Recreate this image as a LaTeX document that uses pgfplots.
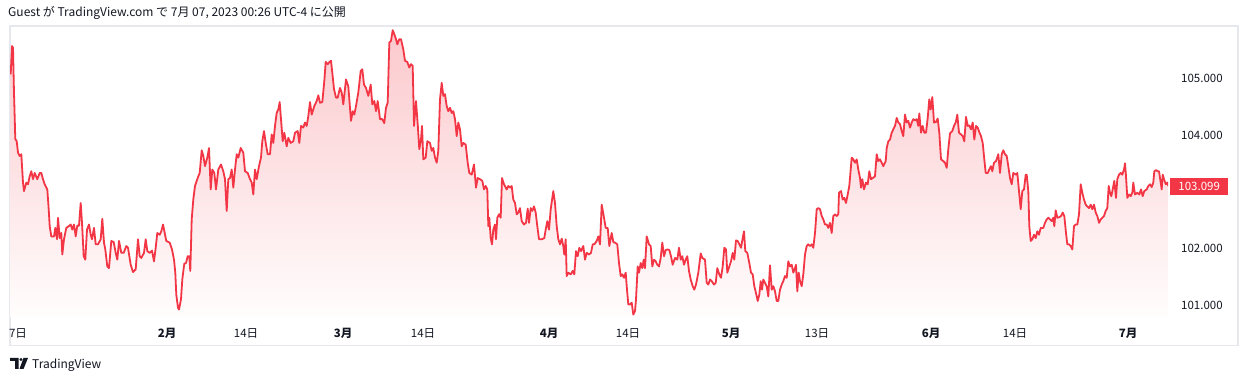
\documentclass[border=0pt]{standalone}
\usepackage{fontspec}
\setmainfont{Noto Sans CJK JP}
\usepackage{pgfplots}
\pgfplotsset{compat=1.18}
\usepackage{pgfplotstable}
\definecolor{tvred}{HTML}{F23645}
\definecolor{tvtext}{HTML}{131722}
\definecolor{tvborder}{HTML}{E6E8EE}
\colorlet{tvfilltop}{tvred!27!white}
\colorlet{tvfillbot}{tvred!1!white}

\pgfplotstableread[row sep=\\]{
x y\\
10.7 105.07\\ 12 105.57\\ 13 105.54\\ 14 104.75\\ 15.3 103.93\\ 16.7 103.89\\ 18 103.69\\ 19.7 103.63\\ 21.3 103.66\\ 23 103.16\\
24 103.01\\ 26.3 103.16\\ 28 103.13\\ 29.7 103.27\\ 31.3 103.36\\ 33 103.22\\ 34.7 103.33\\ 37.3 103.22\\ 39.7 103.33\\ 41.3 103.33\\
43 103.22\\ 44.7 103.13\\ 47.3 103.04\\ 48.7 102.69\\ 49.7 102.39\\ 51.3 102.21\\ 54 102.21\\ 55.3 102.36\\ 57 102.16\\ 58 102.54\\
59.7 102.18\\ 61.3 102.27\\ 62.3 101.89\\ 64 102.16\\ 66.3 102.36\\ 68.7 102.39\\ 70.7 102.42\\ 72.3 102.33\\ 74 102.42\\ 75.7 102.21\\
77.3 102.40\\ 79 102.40\\ 80.7 102.80\\ 82 102.45\\ 83.7 101.86\\ 85.3 101.80\\ 87 102.33\\ 89 102.42\\ 90.7 102.24\\ 92 102.16\\
94 102.36\\ 95.7 102.07\\ 98 102.07\\ 100.7 102.16\\ 102.3 102.52\\ 104 102.10\\ 105.3 101.98\\ 107.3 101.68\\ 109 101.65\\ 111.3 102.13\\
113.7 102.11\\ 115.7 101.92\\ 117.3 101.80\\ 119 102.13\\ 121.3 101.92\\ 123.7 101.92\\ 126.3 102.04\\ 128 102.01\\ 130.7 101.71\\ 133 101.58\\
135.7 101.63\\ 138 102.16\\ 139.7 101.86\\ 141.3 101.83\\ 144 101.92\\ 145.7 102.16\\ 147.3 101.95\\ 149.7 101.92\\ 152 101.96\\ 154 101.77\\
155.7 102.01\\ 157.3 102.27\\ 159.7 102.24\\ 161.3 102.30\\ 163 102.42\\ 164.7 102.27\\ 166.3 102.13\\ 169.7 102.10\\ 172 101.98\\ 174 101.80\\
175.3 101.57\\ 176.3 101.18\\ 178 100.95\\ 179 100.92\\ 181 101.10\\ 182.3 101.45\\ 184.3 101.73\\ 186 101.74\\ 187.7 101.86\\ 189.3 101.86\\
190.3 101.60\\ 191.7 102.51\\ 193.3 102.86\\ 195 103.10\\ 196.7 103.19\\ 198.3 103.27\\ 199.7 103.33\\ 201.7 103.73\\ 203.3 103.63\\ 205 103.45\\
207.3 103.60\\ 209 103.77\\ 210.7 103.04\\ 212.3 103.39\\ 214.3 103.33\\ 216 103.04\\ 218.3 103.39\\ 221 103.48\\ 223.3 103.36\\ 225 103.22\\
226.7 102.66\\ 228.3 103.22\\ 230 103.24\\ 231.7 103.39\\ 233.3 103.07\\ 235 103.39\\ 236.7 103.66\\ 238.3 103.60\\ 240.7 103.77\\ 243.3 103.69\\
245 103.36\\ 247.7 103.33\\ 250 103.22\\ 251.7 103.16\\ 253.3 102.95\\ 255 103.39\\ 256.7 103.22\\ 259 103.45\\ 261 103.60\\ 262.3 103.89\\
264 104.07\\ 265.7 103.86\\ 267.7 103.66\\ 270 103.66\\ 271.7 104.01\\ 273.3 103.86\\ 275 104.16\\ 276.7 104.39\\ 278.3 104.45\\ 279.7 104.58\\
281 104.28\\ 282.7 103.89\\ 284.3 104.04\\ 286.7 103.80\\ 288.3 103.95\\ 290.7 103.86\\ 293.3 103.89\\ 295 104.04\\ 297.7 104.07\\ 299.3 103.86\\
301 104.16\\ 303.3 104.13\\ 305 104.22\\ 306.7 104.16\\ 308.3 104.33\\ 310 104.58\\ 311.7 104.36\\ 314.3 104.51\\ 316.7 104.60\\ 318.3 104.70\\
320 104.57\\ 322.3 104.58\\ 324.3 104.95\\ 325.7 105.29\\ 327.7 105.25\\ 329 105.28\\ 331 105.31\\ 332.3 105.10\\ 334 104.81\\ 336 104.66\\
337.7 104.66\\ 340 104.83\\ 341.7 104.75\\ 343.3 104.54\\ 346 104.98\\ 348.3 104.86\\ 351 104.25\\ 352.7 104.42\\ 354.3 104.36\\ 356 104.51\\
358.3 104.75\\ 360.7 105.13\\ 362.3 105.16\\ 364 104.89\\ 366 104.83\\ 368.3 104.69\\ 370.7 104.89\\ 372.3 104.54\\ 374.3 104.60\\ 376 104.42\\
377.7 104.60\\ 380 104.28\\ 382.3 104.28\\ 384.3 104.21\\ 386 104.48\\ 387.7 104.57\\ 389.3 105.63\\ 391 105.66\\ 392.7 105.85\\ 394.3 105.78\\
396 105.69\\ 397.3 105.60\\ 399.3 105.69\\ 401 105.69\\ 403.3 105.51\\ 405 105.31\\ 407.3 105.29\\ 409.3 105.19\\ 411 105.25\\ 412.7 105.22\\
414 104.16\\ 416 104.60\\ 417.7 104.19\\ 419.3 103.75\\ 421 103.92\\ 422 104.16\\ 423.3 103.57\\ 425.7 103.60\\ 427.3 103.89\\ 430 103.86\\
431.7 103.72\\ 433.3 103.77\\ 435 103.60\\ 436.7 103.51\\ 438.3 103.72\\ 440 104.63\\ 441.7 104.92\\ 443.3 104.69\\ 445 104.72\\ 446.7 104.51\\
448.3 104.42\\ 450 104.48\\ 451.7 104.39\\ 453.3 104.42\\ 455 104.28\\ 456.7 103.98\\ 458.3 104.22\\ 460 104.10\\ 461.7 103.80\\ 463.3 103.86\\
465.7 103.83\\ 467.7 103.51\\ 469.3 103.33\\ 471.7 103.30\\ 474 103.48\\ 476 103.07\\ 477.7 103.24\\ 480 103.22\\ 482.3 103.19\\ 484 103.04\\
485.7 103.10\\ 487.3 103.04\\ 488.3 102.39\\ 489.3 102.54\\ 490.7 102.18\\ 492 102.07\\ 493.3 102.33\\ 495 102.42\\ 496 102.16\\ 497.3 102.54\\
499 102.60\\ 500.7 102.54\\ 502 103.24\\ 504 103.13\\ 506.7 103.04\\ 508.3 103.10\\ 510 103.07\\ 511.7 103.10\\ 513.3 102.86\\ 515 102.80\\
516.7 102.60\\ 518.3 102.63\\ 520 102.71\\ 521.7 102.48\\ 524 102.42\\ 526 102.45\\ 527.7 102.70\\ 529 102.45\\ 530.7 102.71\\ 532.3 102.66\\
534 102.74\\ 535.7 102.63\\ 537.3 102.39\\ 539 102.16\\ 541.7 102.16\\ 544.3 102.18\\ 545.7 102.33\\ 547.3 102.48\\ 549 102.33\\ 550.7 102.69\\
553.3 103.01\\ 555 102.80\\ 556.7 102.39\\ 558.3 102.16\\ 560 102.07\\ 561.7 102.17\\ 563.3 102.04\\ 564.3 101.89\\ 565.7 102.16\\ 566.7 101.51\\
568.3 101.57\\ 570.7 101.54\\ 572.7 101.60\\ 574.3 101.54\\ 576 101.95\\ 577.7 101.86\\ 579.3 102.01\\ 581 101.95\\ 583.3 102.04\\ 585 101.80\\
586.7 101.92\\ 589 101.89\\ 591 101.92\\ 592.7 102.07\\ 594.3 102.07\\ 596.7 102.13\\ 598.3 102.21\\ 600 102.07\\ 601.7 102.77\\ 603.7 102.57\\
605.7 102.36\\ 607.7 102.36\\ 609.3 102.04\\ 611.7 102.27\\ 613.3 102.11\\ 615 102.10\\ 617.3 102.07\\ 619 101.74\\ 620.7 101.51\\ 622.3 101.54\\
624 101.48\\ 625.7 101.57\\ 627 101.27\\ 628.3 101.01\\ 630 101.01\\ 631.7 101.04\\ 633.3 100.83\\ 635 100.89\\ 636 101.10\\ 637.7 101.68\\
639 101.57\\ 640.7 101.74\\ 642.3 101.65\\ 643.7 101.80\\ 645 101.65\\ 646.7 102.21\\ 649 102.07\\ 650.7 102.04\\ 652.3 101.68\\ 654 101.80\\
655.7 101.77\\ 657.3 101.71\\ 659 101.68\\ 660.7 101.83\\ 662.3 102.10\\ 664 101.86\\ 665.7 101.97\\ 667.7 101.98\\ 669.3 101.97\\ 671 101.86\\
672.7 101.71\\ 675 101.83\\ 677.3 101.80\\ 679 102.01\\ 680.7 101.80\\ 682.3 101.86\\ 684 101.71\\ 685.7 101.80\\ 687.3 101.86\\ 689 101.60\\
690.7 101.45\\ 692.7 101.33\\ 694.3 101.27\\ 696 101.36\\ 698.3 101.57\\ 700.7 101.91\\ 702.3 101.83\\ 705 101.80\\ 706.7 101.39\\ 708.3 101.36\\
710 101.45\\ 711.7 101.42\\ 714 101.36\\ 715.7 101.39\\ 717.3 101.65\\ 719.3 101.54\\ 721 101.48\\ 722.7 101.68\\ 724.3 102.01\\ 726 101.98\\
727.3 101.57\\ 729.3 101.68\\ 731 101.77\\ 732.7 101.92\\ 734.3 101.80\\ 736 102.14\\ 737.7 102.13\\ 739.3 102.07\\ 741 102.01\\ 742.7 102.18\\
744 102.30\\ 745.3 101.95\\ 747.3 101.92\\ 749.3 101.74\\ 751 101.57\\ 752.7 101.54\\ 754.3 101.33\\ 756 101.21\\ 757.7 101.07\\ 759.3 101.18\\
760.7 101.42\\ 762 101.27\\ 763.3 101.45\\ 765 101.39\\ 766.7 101.33\\ 768.3 101.15\\ 770 101.70\\ 771.7 101.27\\ 773.3 101.33\\ 775 101.24\\
776.7 101.07\\ 778.3 101.07\\ 780 101.27\\ 781.7 101.36\\ 783.3 101.42\\ 785 101.51\\ 786.7 101.48\\ 788.3 101.77\\ 790 101.68\\ 791.7 101.71\\
793.3 101.57\\ 795 101.65\\ 796 101.71\\ 797.3 101.24\\ 798.7 101.57\\ 800 101.42\\ 801.7 101.33\\ 803.3 101.54\\ 805 101.89\\ 806.7 102.04\\
808.3 102.07\\ 810 102.04\\ 811.7 102.07\\ 813.3 102.01\\ 815 102.27\\ 816.7 102.69\\ 818.3 102.71\\ 820 102.69\\ 821.7 102.57\\ 823.3 102.51\\
825 102.42\\ 826.7 102.42\\ 828.3 102.36\\ 830 102.45\\ 831.7 102.27\\ 833.3 102.57\\ 835 102.60\\ 836.7 102.57\\ 838.3 102.60\\ 839 102.98\\
841 103.01\\ 842.7 102.86\\ 844.3 102.89\\ 846 102.80\\ 847.7 102.95\\ 849.3 103.10\\ 851.7 103.60\\ 853.3 103.57\\ 855 103.51\\ 856.7 103.57\\
858.3 103.39\\ 860 103.24\\ 861 103.07\\ 862.3 103.22\\ 864 103.04\\ 866 103.16\\ 867.7 103.13\\ 869.3 103.36\\ 871 103.22\\ 872.7 103.24\\
875 103.27\\ 876.7 103.66\\ 878.3 103.54\\ 880 103.57\\ 881.7 103.51\\ 883.3 103.45\\ 885.7 103.54\\ 886.7 103.77\\ 888.3 103.89\\ 890 103.92\\
891.7 104.04\\ 893.3 104.10\\ 895 104.16\\ 896.7 104.30\\ 898.3 104.22\\ 900 104.19\\ 901.7 104.07\\ 903.3 103.98\\ 905 104.36\\ 906.7 104.22\\
908.3 104.25\\ 910 104.13\\ 911.7 104.22\\ 913.3 104.28\\ 915 104.26\\ 916.7 104.28\\ 918.3 104.16\\ 919.3 104.38\\ 921 104.04\\ 922.7 104.16\\
924.3 104.04\\ 926 104.04\\ 927.7 104.30\\ 929.3 104.63\\ 930.7 104.45\\ 932.3 104.67\\ 934 104.22\\ 936 104.23\\ 937.7 104.29\\ 939.3 104.04\\
941 103.57\\ 943.3 103.54\\ 945 103.51\\ 946.7 103.42\\ 948.3 103.75\\ 950 104.03\\ 952.3 104.07\\ 954 104.16\\ 955.7 104.22\\ 957.3 104.36\\
959 104.04\\ 961 104.01\\ 962.7 103.98\\ 964.3 103.89\\ 966 104.32\\ 967.7 104.16\\ 969.3 104.17\\ 971 104.10\\ 972.7 104.22\\ 974.3 103.92\\
976 104.16\\ 977.7 104.13\\ 979.3 104.05\\ 981 103.98\\ 982.7 103.86\\ 984.3 103.57\\ 985.7 103.33\\ 987.7 103.33\\ 989.3 103.39\\ 991 103.45\\
992.3 103.36\\ 994 103.51\\ 996 103.54\\ 998.3 103.66\\ 1000 103.33\\ 1001.7 103.66\\ 1003.3 103.73\\ 1005 103.66\\ 1006.7 103.63\\ 1008.3 103.45\\
1010 103.24\\ 1011.7 103.13\\ 1013.3 103.33\\ 1015.7 103.30\\ 1017.3 103.33\\ 1019 103.01\\ 1020.7 102.69\\ 1022.3 103.01\\ 1024 103.04\\ 1025.7 103.30\\
1026.7 103.30\\ 1028.3 103.01\\ 1029.3 102.39\\ 1030.7 102.13\\ 1032.3 102.16\\ 1034 102.24\\ 1035.7 102.18\\ 1037.3 102.30\\ 1039 102.24\\ 1040.7 102.36\\
1043.3 102.36\\ 1045 102.45\\ 1046.7 102.51\\ 1048.3 102.54\\ 1050 102.51\\ 1051.7 102.48\\ 1053.3 102.54\\ 1054.3 102.39\\ 1055.7 102.67\\ 1057.3 102.54\\
1059.3 102.55\\ 1061 102.57\\ 1062.7 102.63\\ 1064.3 102.57\\ 1066 102.27\\ 1067.3 102.07\\ 1069 102.07\\ 1070.7 102.04\\ 1072.3 101.98\\ 1074 102.39\\
1075.7 102.42\\ 1077.3 102.42\\ 1079 102.60\\ 1080.7 103.13\\ 1082.3 102.98\\ 1084 102.86\\ 1085.7 102.77\\ 1087.3 102.74\\ 1089 102.71\\ 1090.7 102.77\\
1092.3 102.69\\ 1094 102.77\\ 1095.7 102.63\\ 1097.3 102.57\\ 1099 102.45\\ 1100.7 102.51\\ 1102.3 102.54\\ 1104 102.57\\ 1105.7 102.66\\ 1107.3 102.71\\
1108.7 103.10\\ 1110 102.98\\ 1111.3 102.92\\ 1112.7 103.04\\ 1114.3 103.19\\ 1116 102.89\\ 1117.3 103.22\\ 1119 103.30\\ 1120.7 103.33\\ 1122.3 103.30\\
1124 103.39\\ 1125 103.50\\ 1126 103.27\\ 1127.3 102.89\\ 1129 102.95\\ 1130.7 102.92\\ 1132.3 102.98\\ 1133.3 103.16\\ 1135 102.95\\ 1137.3 102.98\\
1139.3 102.95\\ 1141 103.04\\ 1142.7 102.92\\ 1144.3 103.01\\ 1146.7 103.04\\ 1148.3 103.10\\ 1150 103.13\\ 1151.7 103.08\\ 1153.3 103.16\\ 1154.3 103.36\\
1156 103.38\\ 1157.7 103.36\\ 1159 103.36\\ 1160.7 103.16\\ 1161.7 103.04\\ 1162.7 103.30\\ 1164 103.22\\ 1165.7 103.13\\ 1167.3 103.16\\ 1168.3 103.099\\
}\dxy

\begin{document}
\begin{tikzpicture}[x=1pt,y=1pt]
\useasboundingbox (0,0) rectangle (1248,382);
\fill[white] (0,0) rectangle (1248,382);
\draw[tvborder, line width=1.2pt] (10,36.5) rectangle (1238,356);
\node[anchor=base west, inner sep=0pt, text=tvtext, font=\fontsize{12}{14}\selectfont] at (8,365.5) {Guest が TradingView.com で 7月 07, 2023 00:26 UTC-4 に公開};
\begin{axis}[
  at={(10pt,64pt)}, anchor=south west,
  scale only axis, width=1158pt, height=292pt,
  xmin=10, xmax=1168, ymin=100.77, ymax=105.924,
  axis line style={draw=none},
  major tick length=0pt,
  clip mode=individual,
  xtick={18,167,246,343,423,549,628,731,817,931,1015,1128},
  xticklabels={7日,\textbf{2月},14日,\textbf{3月},14日,\textbf{4月},14日,\textbf{5月},13日,\textbf{6月},14日,\textbf{7月}},
  xticklabel style={anchor=base, inner sep=0pt, yshift=-20pt, text=tvtext, font=\fontsize{11.5}{13}\selectfont},
  ytick={101,102,103,104,105},
  yticklabels={101.000,102.000,,104.000,105.000},
  yticklabel pos=right,
  yticklabel style={anchor=west, inner sep=0pt, xshift=13pt, text=tvtext, font=\fontsize{11.5}{13}\selectfont},
]
\addplot[draw=none, top color=tvfilltop, bottom color=tvfillbot] table[x=x,y=y]{\dxy} \closedcycle;
\addplot[tvred, line width=1.8pt, line join=round] table[x=x,y=y]{\dxy};
\node[anchor=west, fill=tvred, text=white, inner sep=0pt, minimum width=58pt, minimum height=17pt, font=\fontsize{11.5}{13}\selectfont] at (axis cs:1168,103.099) [xshift=2pt] {103.099};
\end{axis}
% TradingView logo
\fill[tvtext] (10,21) rectangle (18.5,24) (15,13) rectangle (18.5,24);
\fill[tvtext] (21,22.5) circle (1.6);
\fill[tvtext] (23.5,24) -- (28,24) -- (23.5,13) -- (19.5,13) -- cycle;
\node[anchor=base west, inner sep=0pt, text=tvtext, font=\fontsize{12}{14}\selectfont] at (32,13.5) {TradingView};
\end{tikzpicture}
\end{document}
